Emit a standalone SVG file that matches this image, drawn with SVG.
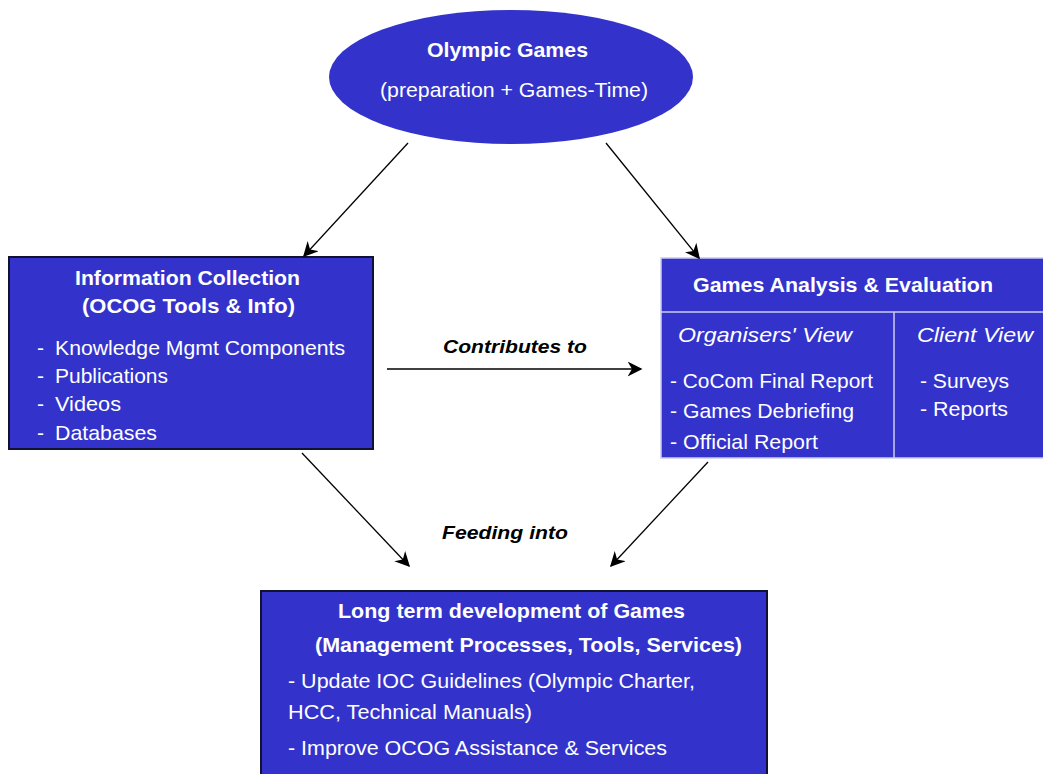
<svg xmlns="http://www.w3.org/2000/svg" width="1043" height="774" viewBox="0 0 1043 774">
<style>
  text { font-family: "Liberation Sans", Arial, sans-serif; fill: #ffffff; font-size: 21px; }
  .b { font-weight: bold; }
  .i { font-style: italic; }
  .lbl { fill: #000000; font-weight: bold; font-style: italic; font-size: 19px; }
  .node { fill: #3333cc; }
  .dark { stroke: #111133; stroke-width: 2; }
  .light { stroke: #ccccee; stroke-width: 1.5; }
  .conn line { stroke: #000000; stroke-width: 1.3; marker-end: url(#ah); }
</style>
<defs>
  <marker id="ah" viewBox="0 0 10 10" refX="9" refY="5" markerWidth="15" markerHeight="15" markerUnits="userSpaceOnUse" orient="auto">
    <path d="M0,0 L10,5 L0,10 L3,5 Z" fill="#000000"/>
  </marker>
</defs>
<rect width="1043" height="774" fill="#ffffff"/>

<g id="olympic-games">
  <ellipse class="node" cx="511" cy="77" rx="182" ry="67"/>
  <text class="b" x="427" y="57" textLength="161" lengthAdjust="spacingAndGlyphs">Olympic Games</text>
  <text x="380" y="97" textLength="268" lengthAdjust="spacingAndGlyphs">(preparation + Games-Time)</text>
</g>

<g id="information-collection">
  <rect class="node dark" x="9" y="257" width="364" height="192"/>
  <text class="b" x="75" y="285" textLength="225" lengthAdjust="spacingAndGlyphs">Information Collection</text>
  <text class="b" x="82" y="313" textLength="213" lengthAdjust="spacingAndGlyphs">(OCOG Tools &amp; Info)</text>
  <text x="37" y="355">-</text><text x="55" y="355" textLength="290" lengthAdjust="spacingAndGlyphs">Knowledge Mgmt Components</text>
  <text x="37" y="383">-</text><text x="55" y="383" textLength="113" lengthAdjust="spacingAndGlyphs">Publications</text>
  <text x="37" y="411">-</text><text x="55" y="411" textLength="66" lengthAdjust="spacingAndGlyphs">Videos</text>
  <text x="37" y="440">-</text><text x="55" y="440" textLength="102" lengthAdjust="spacingAndGlyphs">Databases</text>
</g>

<g id="games-analysis">
  <rect class="node light" x="661" y="258" width="390" height="200"/>
  <line class="light" x1="661" y1="312" x2="1043" y2="312"/>
  <line class="light" x1="894" y1="312" x2="894" y2="458"/>
  <text class="b" x="693" y="292" textLength="300" lengthAdjust="spacingAndGlyphs">Games Analysis &amp; Evaluation</text>
  <text class="i" x="678" y="342" textLength="174" lengthAdjust="spacingAndGlyphs">Organisers' View</text>
  <text class="i" x="917" y="342" textLength="116" lengthAdjust="spacingAndGlyphs">Client View</text>
  <text x="670" y="388" textLength="203" lengthAdjust="spacingAndGlyphs">- CoCom Final Report</text>
  <text x="670" y="418" textLength="184" lengthAdjust="spacingAndGlyphs">- Games Debriefing</text>
  <text x="670" y="449" textLength="148" lengthAdjust="spacingAndGlyphs">- Official Report</text>
  <text x="920" y="388" textLength="89" lengthAdjust="spacingAndGlyphs">- Surveys</text>
  <text x="920" y="416" textLength="88" lengthAdjust="spacingAndGlyphs">- Reports</text>
</g>

<g id="long-term-development">
  <rect class="node dark" x="261" y="591" width="506" height="190"/>
  <text class="b" x="338" y="618" textLength="347" lengthAdjust="spacingAndGlyphs">Long term development of Games</text>
  <text class="b" x="315" y="652" textLength="427" lengthAdjust="spacingAndGlyphs">(Management Processes, Tools, Services)</text>
  <text x="288" y="688" textLength="407" lengthAdjust="spacingAndGlyphs">- Update IOC Guidelines (Olympic Charter,</text>
  <text x="288" y="719" textLength="244" lengthAdjust="spacingAndGlyphs">HCC, Technical Manuals)</text>
  <text x="288" y="755" textLength="379" lengthAdjust="spacingAndGlyphs">- Improve OCOG Assistance &amp; Services</text>
</g>

<g id="connectors" class="conn">
  <line x1="408" y1="143" x2="304" y2="256"/>
  <line x1="606" y1="143" x2="699" y2="258"/>
  <line x1="387" y1="369" x2="641" y2="369" stroke-width="2"/>
  <line x1="302" y1="453" x2="409" y2="566"/>
  <line x1="708" y1="462" x2="611" y2="566"/>
  <text class="lbl" x="443" y="353" textLength="144" lengthAdjust="spacingAndGlyphs">Contributes to</text>
  <text class="lbl" x="442" y="539" textLength="126" lengthAdjust="spacingAndGlyphs">Feeding into</text>
</g>
</svg>
